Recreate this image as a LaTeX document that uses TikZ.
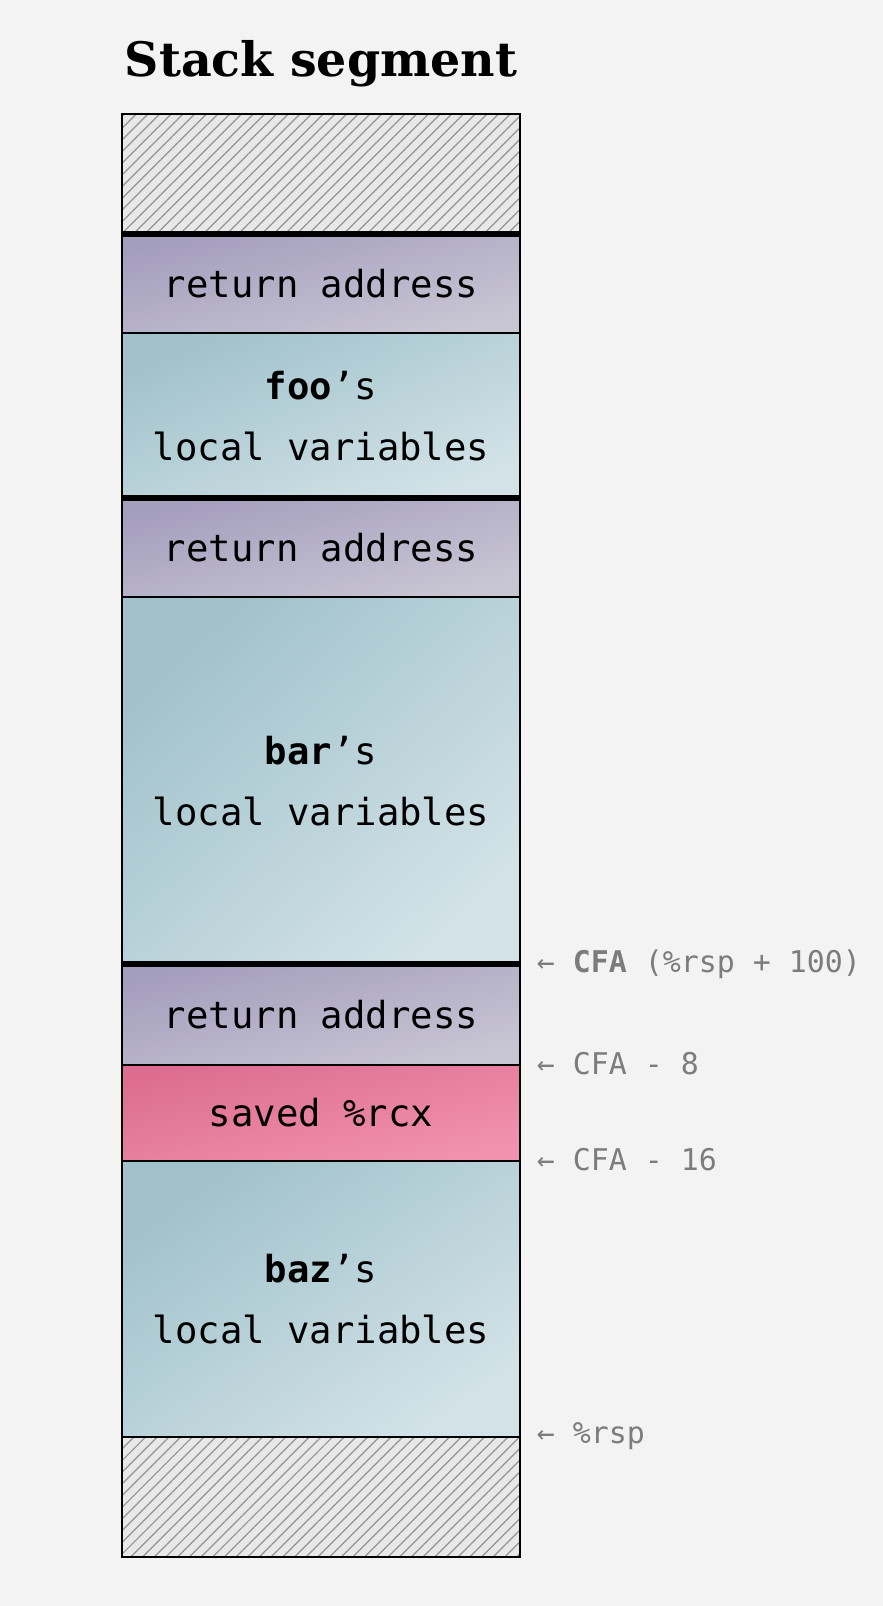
\documentclass[tikz,border=0pt]{standalone}
\usepackage{fontspec}
\newfontfamily\monofont{DejaVu Sans Mono}
\newfontfamily\titlefont{DejaVu Serif}
\usetikzlibrary{patterns.meta}
\definecolor{pagebg}{HTML}{F3F3F3}
\definecolor{retA}{HTML}{A49EBD}
\definecolor{retB}{HTML}{C9C6D4}
\definecolor{locA}{HTML}{A1C2CB}
\definecolor{locB}{HTML}{D2E2E7}
\definecolor{rcxA}{HTML}{DC6D91}
\definecolor{rcxB}{HTML}{F292B0}
\definecolor{hatchbg}{HTML}{E8E8E8}
\definecolor{labelgray}{HTML}{7C7C7C}
\tikzset{
  seg/.style={draw, line width=0.6pt, minimum width=3.98cm, inner sep=0pt,
    align=center, font=\monofont\fontsize{10.6}{17.5}\selectfont},
  retaddr/.style={top color=retA, bottom color=retB, shading angle=14},
  locals/.style={top color=locA, bottom color=locB, shading angle=#1},
  saved/.style={top color=rcxA, bottom color=rcxB, shading angle=14},
  hatch/.style={preaction={fill=hatchbg}, pattern={Lines[angle=45,distance=2.35pt,line width=0.35pt]}, pattern color=gray!85},
  framesep/.style={line width=1.5pt},
  cfalabel/.style={anchor=west, text=labelgray, inner sep=0pt, font=\monofont\fontsize{8.5}{10}\selectfont}
}
\begin{document}
\begin{tikzpicture}[x=0.01cm,y=-0.01cm]
  \fill[pagebg] (0,0) rectangle (883,1606);
  \useasboundingbox (0,0) rectangle (883,1606);
  \node[font=\titlefont\bfseries\fontsize{13.5}{16}\selectfont, anchor=base] (title) at (321,77) {Stack segment};
  % stack frames, top to bottom
  \node[seg, hatch, minimum height=1.21cm] (top) at (321,174.5) {};
  \node[seg, retaddr, minimum height=0.98cm] (ret1) at (321,284) {return address};
  \node[seg, locals=23, minimum height=1.66cm] (foo) at (321,416) {\textbf{foo}’s\\local variables};
  \node[seg, retaddr, minimum height=0.98cm] (ret2) at (321,548) {return address};
  \node[seg, locals=43, minimum height=3.68cm] (bar) at (321,781) {\textbf{bar}’s\\local variables};
  \node[seg, retaddr, minimum height=1.00cm] (ret3) at (321,1015) {return address};
  \node[seg, saved, minimum height=0.96cm] (rcx) at (321,1113) {saved \%rcx};
  \node[seg, locals=35, minimum height=2.76cm] (baz) at (321,1299) {\textbf{baz}’s\\local variables};
  \node[seg, hatch, minimum height=1.20cm] (bottom) at (321,1497) {};
  % frame boundaries
  \draw[framesep] (ret1.north west) -- (ret1.north east);
  \draw[framesep] (ret2.north west) -- (ret2.north east);
  \draw[framesep] (ret3.north west) -- (ret3.north east);
  % pointers
  \node[cfalabel] (cfa) at ([xshift=0.15cm]ret3.north east) {← \textbf{CFA} (\%rsp + 100)};
  \node[cfalabel] (cfa8) at ([xshift=0.15cm]rcx.north east) {← CFA - 8};
  \node[cfalabel] (cfa16) at ([xshift=0.15cm]baz.north east) {← CFA - 16};
  \node[cfalabel] (rsp) at ([xshift=0.15cm]bottom.north east) {← \%rsp};
\end{tikzpicture}
\end{document}
